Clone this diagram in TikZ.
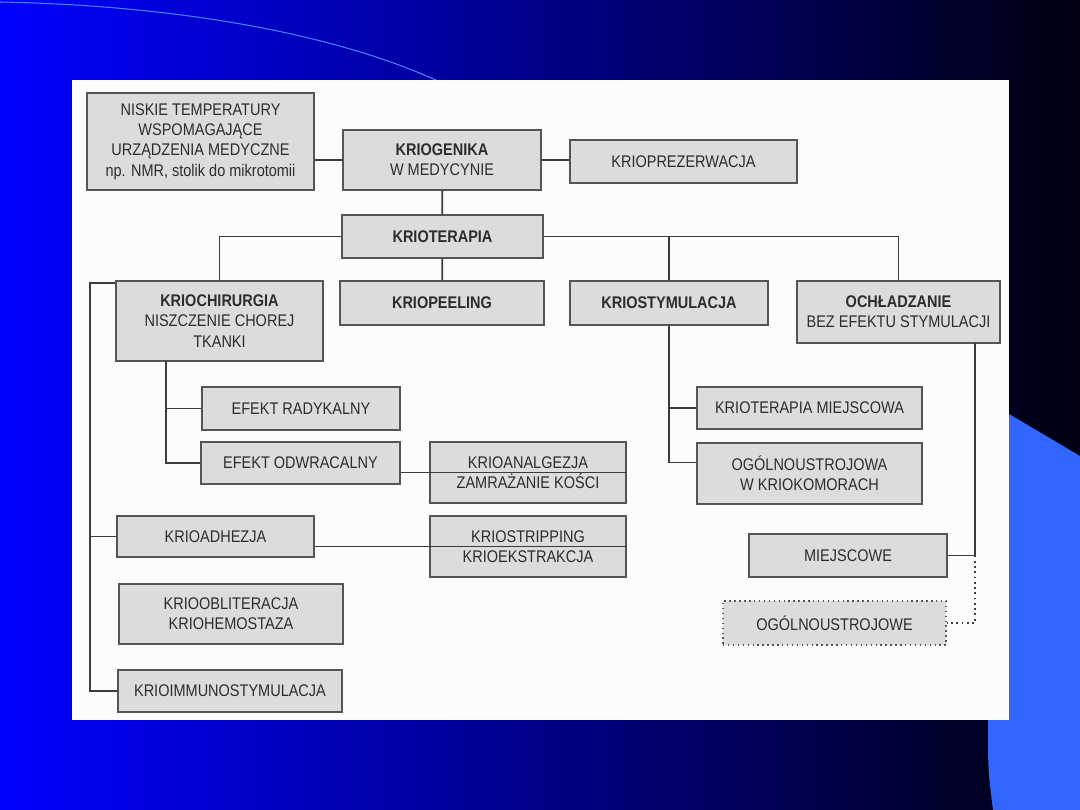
\documentclass[tikz,border=0pt]{standalone}
\usepackage{fontspec}
\setmainfont{Liberation Sans}[FakeStretch=0.86]
\usepackage{tikz}
\usetikzlibrary{positioning, calc}
\definecolor{cBlue}{RGB}{0,0,255}
\definecolor{cDark}{RGB}{0,0,16}
\definecolor{cArc}{RGB}{70,130,255}
\definecolor{cShape}{RGB}{51,102,255}
\definecolor{cPanel}{RGB}{252,252,250}
\definecolor{cBox}{RGB}{220,220,220}
\definecolor{cLine}{RGB}{85,85,85}
\definecolor{cWire}{RGB}{60,60,60}
\definecolor{cText}{RGB}{45,45,45}
\tikzset{
    box/.style    ={rectangle, draw=cLine, line width=0.8pt, fill=cBox, align=center, text=cText, inner sep=1pt},
    dotbox/.style ={box, dotted, line width=1pt},
    link/.style   ={draw=cWire, line width=1pt},
    dotlink/.style={link, dotted, line width=1pt},
}

\begin{document}
\begin{tikzpicture}[x=0.02cm, y=-0.02cm, font=\fontsize{9.6}{11.6}\selectfont]
        \useasboundingbox (0,0) rectangle (1080,810);
        % slide background
        \shade[left color=cBlue, right color=cDark] (0,0) rectangle (1080,810);
        \draw[cArc, line width=0.6pt] (0,2) .. controls (200,6) and (350,40) .. (440,82);
        \fill[cShape] (1009,414) -- (1080,456) -- (1080,810) -- (993,810) .. controls (988,770) .. (988,720) -- (988,414) -- cycle;
        \fill[cPanel] (72,80) rectangle (1009,720);
        % top
        \node[box, minimum width=4.54cm, minimum height=1.94cm] (nisk) at (200.5,141.5){NISKIE TEMPERATURY\\WSPOMAGAJĄCE\\URZĄDZENIA MEDYCZNE\\np. NMR, stolik do mikrotomii};
        \node[box, minimum width=3.96cm, minimum height=1.20cm] (gen) at (442,160){\textbf{KRIOGENIKA}\\W MEDYCYNIE};
        \node[box, minimum width=4.54cm, minimum height=0.86cm] (prez) at (683.5,161.5){KRIOPREZERWACJA};
        \node[box, minimum width=4.02cm, minimum height=0.86cm] (ter) at (442.5,236.5){\textbf{KRIOTERAPIA}};
        \draw[link](gen.west) -- (gen.west -| nisk.east);
        \draw[link](gen.east) -- (gen.east -| prez.west);
        \draw[link](gen) -- (ter);
        % second row
        \node[box, minimum width=4.14cm, minimum height=1.60cm] (chir) at (219.5,321){\textbf{KRIOCHIRURGIA}\\NISZCZENIE CHOREJ\\TKANKI};
        \node[box, minimum width=4.08cm, minimum height=0.88cm] (peel) at (442,303){\textbf{KRIOPEELING}};
        \node[box, minimum width=3.96cm, minimum height=0.88cm] (stym) at (669,303){\textbf{KRIOSTYMULACJA}};
        \node[box, minimum width=4.06cm, minimum height=1.24cm] (ochl) at (898.5,312){\textbf{OCHŁADZANIE}\\BEZ EFEKTU STYMULACJI};
        \draw[link](ter.west) -| (chir.north);
        \draw[link](ter) -- (peel);
        \draw[link](ter.east) -| (ochl.north);
        \draw[link](ter.east -| stym.north) -- (stym.north);
        % kriochirurgia
        \node[box, minimum width=3.96cm, minimum height=0.86cm] (rad) at (301,408.5){EFEKT RADYKALNY};
        \node[box, minimum width=3.98cm, minimum height=0.84cm] (odw) at (300.5,463){EFEKT ODWRACALNY};
        \node[box, minimum width=3.92cm, minimum height=1.22cm] (analg) at (528,472.5){KRIOANALGEZJA\\ZAMRAŻANIE KOŚCI};
        \node[box, minimum width=3.94cm, minimum height=0.82cm] (adh) at (215.5,536.5){KRIOADHEZJA};
        \node[box, minimum width=3.92cm, minimum height=1.22cm] (strip) at (528,546.5){KRIOSTRIPPING\\KRIOEKSTRAKCJA};
        \node[box, minimum width=4.48cm, minimum height=1.20cm] (oblit) at (231,614){KRIOOBLITERACJA\\KRIOHEMOSTAZA};
        \node[box, minimum width=4.48cm, minimum height=0.84cm] (imm) at (230,691){KRIOIMMUNOSTYMULACJA};
        \coordinate (cb) at (166,361);
        \coordinate (lb) at (90,283);
        \draw[link](cb) |- (odw.west);
        \draw[link](cb |- rad.west) -- (rad.west);
        \draw[link](odw.east |- analg) -- (analg.east);
        \draw[link](chir.north west |- lb) -- (lb) |- (imm.west);
        \draw[link](lb |- adh.west) -- (adh.west);
        \draw[link](adh.east |- strip) -- (strip.east);
        % kriostymulacja
        \node[box, minimum width=4.50cm, minimum height=0.84cm] (miej) at (809.5,408){KRIOTERAPIA MIEJSCOWA};
        \node[box, minimum width=4.50cm, minimum height=1.22cm] (komor) at (809.5,473.5){OGÓLNOUSTROJOWA\\W KRIOKOMORACH};
        \draw[link](stym.south) |- ([yshift=0.22cm]komor.west);
        \draw[link](stym.south |- miej.west) -- (miej.west);
        % ochladzanie
        \node[box, minimum width=3.96cm, minimum height=0.86cm] (mcw) at (848,555.5){MIEJSCOWE};
        \node[dotbox, minimum width=4.46cm, minimum height=0.88cm] (ogl) at (834.5,623){OGÓLNOUSTROJOWE};
        \coordinate (ob) at (975,343);
        \draw[link](ob) |- (mcw.east);
        \draw[dotlink](mcw.east -| ob) |- (ogl.east);
    \end{tikzpicture}
\end{document}
